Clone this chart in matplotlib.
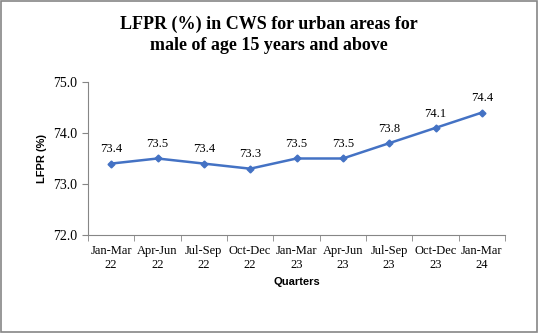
import matplotlib.pyplot as plt
import matplotlib.ticker as mticker
from matplotlib.patches import Rectangle

quarters = ["Jan-Mar\n22", "Apr-Jun\n22", "Jul-Sep\n22", "Oct-Dec\n22", "Jan-Mar\n23",
            "Apr-Jun\n23", "Jul-Sep\n23", "Oct-Dec\n23", "Jan-Mar\n24"]
lfpr = [73.4, 73.5, 73.4, 73.3, 73.5, 73.5, 73.8, 74.1, 74.4]

serif = ["Liberation Serif", "DejaVu Serif"]
sans = ["Liberation Sans", "DejaVu Sans"]


def main():
    fig = plt.figure(figsize=(5.38, 3.33), dpi=100)
    ax = fig.add_axes([0.1636, 0.2943, 0.7751, 0.4595])

    x = list(range(len(lfpr)))
    ax.plot(x, lfpr, color="#4472C4", lw=1.8, marker="D", ms=3.5)
    for xi, v in zip(x, lfpr):
        ax.annotate(f"{v:.1f}", (xi, v), xytext=(0, 6), textcoords="offset points",
                    ha="center", va="bottom", fontsize=9, family=serif)

    ax.set_xlim(-0.5, len(lfpr) - 0.5)
    ax.set_ylim(72, 75)
    ax.set_yticks([72, 73, 74, 75])
    ax.yaxis.set_major_formatter(mticker.FormatStrFormatter("%.1f"))
    ax.set_xticks(x)
    ax.set_xticklabels(quarters, family=serif, fontsize=9, linespacing=1.2)
    ax.set_xticks([i - 0.5 for i in range(len(lfpr) + 1)], minor=True)
    ax.tick_params(axis="x", which="major", length=0, pad=7)
    ax.tick_params(axis="x", which="minor", length=4, color="#868686", direction="out")
    ax.tick_params(axis="y", length=4, color="#868686", direction="out", labelsize=10)
    for lab in ax.get_yticklabels():
        lab.set_family(serif)

    for s in ["top", "right"]:
        ax.spines[s].set_visible(False)
    for s in ["left", "bottom"]:
        ax.spines[s].set_color("#868686")
        ax.spines[s].set_linewidth(0.8)

    ax.set_xlabel("Quarters", family=sans, fontsize=8, fontweight="bold", labelpad=5)
    ax.set_ylabel("LFPR (%)", family=sans, fontsize=8, fontweight="bold", labelpad=5)

    fig.text(0.5, 0.895, "LFPR (%) in CWS for urban areas for\nmale of age 15 years and above",
             ha="center", va="center", family=serif, fontsize=13, fontweight="bold",
             linespacing=1.3)

    fig.patches.append(Rectangle((0.002, 0.003), 0.996, 0.994, transform=fig.transFigure,
                                 fill=False, edgecolor="#868686", lw=1.2))

    fig.savefig("out.png", dpi=100)


if __name__ == "__main__":
    main()
